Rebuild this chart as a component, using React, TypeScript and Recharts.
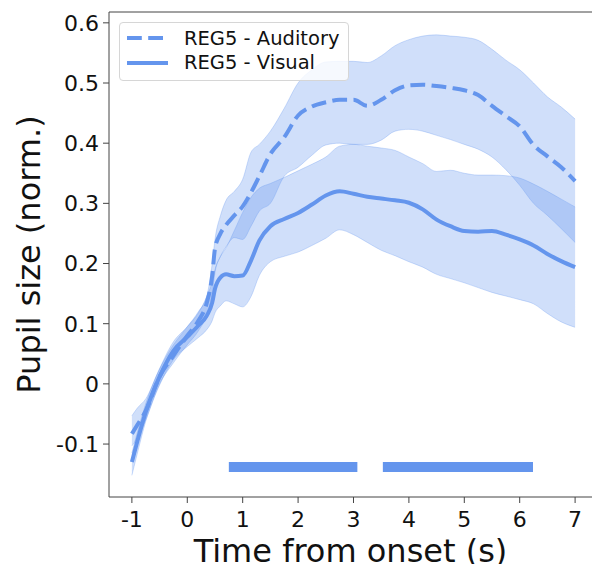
import { ComposedChart, Area, Line, XAxis, YAxis, ReferenceLine, Legend } from 'recharts';

const time = [
  -1, -0.9, -0.75, -0.5, -0.25, 0, 0.2, 0.35, 0.45, 0.5, 0.6, 0.7, 0.85, 1.0, 1.15, 1.3, 1.5, 1.75,
  2.0, 2.25, 2.5, 2.75, 3.0, 3.25, 3.5, 3.75, 4.0, 4.25, 4.5, 4.75, 5.0, 5.25, 5.5, 5.75, 6.0, 6.25,
  6.5, 6.75, 7.0,
];

const auditoryMean = [
  -0.083, -0.068, -0.045, 0.012, 0.047, 0.08, 0.105, 0.134, 0.18, 0.225, 0.25, 0.264, 0.28, 0.295,
  0.318, 0.345, 0.382, 0.41, 0.446, 0.461, 0.468, 0.472, 0.472, 0.462, 0.472, 0.488, 0.496, 0.497,
  0.495, 0.492, 0.488, 0.48, 0.462, 0.445, 0.428, 0.397, 0.378, 0.36, 0.337,
];
const auditoryHigh = [
  -0.053, -0.04, -0.025, 0.025, 0.065, 0.095, 0.12, 0.145, 0.2, 0.24, 0.28, 0.305, 0.32, 0.34, 0.385,
  0.398, 0.42, 0.458, 0.5, 0.522, 0.535, 0.536, 0.536, 0.534, 0.545, 0.562, 0.572, 0.578, 0.58, 0.578,
  0.576, 0.571, 0.556, 0.538, 0.522, 0.5, 0.477, 0.46, 0.44,
];
const auditoryLow = [
  -0.103, -0.09, -0.06, 0.0, 0.035, 0.065, 0.088, 0.115, 0.15, 0.185, 0.212, 0.228, 0.243, 0.24,
  0.262, 0.287, 0.3, 0.345, 0.36, 0.38, 0.397, 0.4, 0.398, 0.398, 0.405, 0.42, 0.423, 0.42, 0.413,
  0.406, 0.398, 0.39, 0.377, 0.356, 0.33, 0.3, 0.28, 0.258, 0.235,
];

const visualMean = [
  -0.13, -0.095, -0.047, 0.012, 0.055, 0.078, 0.097, 0.113, 0.135, 0.158, 0.177, 0.182, 0.179, 0.18,
  0.205, 0.238, 0.262, 0.274, 0.284, 0.298, 0.313, 0.32, 0.316, 0.311, 0.308, 0.305, 0.301, 0.29,
  0.273, 0.262, 0.254, 0.253, 0.254, 0.248, 0.24, 0.23, 0.216, 0.204, 0.194,
];
const visualHigh = [
  -0.115, -0.08, -0.033, 0.025, 0.07, 0.095, 0.118, 0.145, 0.17, 0.19, 0.212, 0.226, 0.255, 0.285,
  0.31, 0.325, 0.333, 0.343, 0.354, 0.365, 0.377, 0.395, 0.398, 0.395, 0.392, 0.388, 0.377, 0.366,
  0.353, 0.355, 0.35, 0.347, 0.347, 0.346, 0.342, 0.332, 0.32, 0.307, 0.294,
];
const visualLow = [
  -0.152, -0.115, -0.062, -0.002, 0.04, 0.062, 0.077, 0.09, 0.105, 0.118, 0.13, 0.138, 0.133, 0.128,
  0.145, 0.18, 0.203, 0.212, 0.219, 0.23, 0.242, 0.256, 0.248, 0.235, 0.222, 0.213, 0.203, 0.194,
  0.182, 0.175, 0.168, 0.16, 0.152, 0.146, 0.14, 0.133, 0.117, 0.103, 0.094,
];

// significance clusters (start, end in s) and the level they are drawn at
const sigCluster1 = [0.75, 3.07];
const sigCluster2 = [3.53, 6.24];
const sigLevel = -0.138;

const xTicks = [-1, 0, 1, 2, 3, 4, 5, 6, 7];
const yTicks = [-0.1, 0, 0.1, 0.2, 0.3, 0.4, 0.5, 0.6];
const xDomain = [-1.413, 7.305];
const yDomain = [-0.188, 0.618];

const BLUE = '#6495ED';
const AXIS = '#444';

const rows = time.map((t, i) => ({
  t,
  aud: auditoryMean[i],
  vis: visualMean[i],
  audBand: [auditoryLow[i], auditoryHigh[i]],
  visBand: [visualLow[i], visualHigh[i]],
}));

const clusterRows = (c: number[]) => c.map((t) => ({ t, sig: sigLevel }));

function renderLegend(props: any) {
  const items = (props.payload || []).filter((p: any) => p.type !== 'none');
  return (
    <div
      style={{
        background: 'rgba(255,255,255,0.8)',
        border: '1px solid #d6d6d6',
        borderRadius: 4,
        padding: '3px 9px 5px 7px',
        fontSize: 19.5,
        color: '#111',
        fontFamily: 'DejaVu Sans',
      }}
    >
      {items.map((entry: any) => (
        <div key={entry.value} style={{ display: 'flex', alignItems: 'center', height: 24.5 }}>
          <svg width={41} height={10} style={{ marginRight: 16 }}>
            <line
              x1={0}
              y1={5}
              x2={41}
              y2={5}
              stroke={entry.color}
              strokeWidth={4}
              strokeDasharray={entry.payload?.strokeDasharray}
            />
          </svg>
          <span>{entry.value}</span>
        </div>
      ))}
    </div>
  );
}

function YLabel(props: any) {
  const vb = props.viewBox || { x: 0, y: 12, width: 109, height: 485 };
  const cx = 40;
  const cy = vb.y + vb.height / 2;
  return (
    <text x={cx} y={cy} transform={`rotate(-90 ${cx} ${cy})`} textAnchor="middle" fontSize={32} fill="#111">
      Pupil size (norm.)
    </text>
  );
}

export default function App() {
  return (
    <div style={{ position: 'absolute', left: 0, top: 0, width: 592, height: 564 }}>
      <ComposedChart
        width={592}
        height={564}
        data={rows}
        margin={{ top: 12, right: 0, bottom: 0, left: 0 }}
        style={{ fontFamily: 'DejaVu Sans' }}
      >
        <XAxis
          dataKey="t"
          type="number"
          domain={xDomain}
          ticks={xTicks}
          allowDataOverflow
          height={67}
          tickSize={6}
          tickMargin={8}
          stroke={AXIS}
          tick={{ fontSize: 22, fill: '#111' }}
          label={{ value: 'Time from onset (s)', position: 'insideBottom', offset: 2, fontSize: 32, fill: '#111' }}
        />
        <YAxis
          type="number"
          domain={yDomain}
          ticks={yTicks}
          allowDataOverflow
          width={109}
          tickSize={6}
          tickMargin={4}
          stroke={AXIS}
          tick={{ fontSize: 22, fill: '#111' }}
          tickFormatter={(v: number) => (v === 0 ? '0' : v.toFixed(1))}
          label={(p: any) => <YLabel {...p} />}
        />
        <ReferenceLine y={yDomain[1]} stroke={AXIS} />

        <Area
          type="monotone"
          dataKey="audBand"
          fill={BLUE}
          fillOpacity={0.3}
          stroke={BLUE}
          strokeOpacity={0.3}
          legendType="none"
          isAnimationActive={false}
        />
        <Area
          type="monotone"
          dataKey="visBand"
          fill={BLUE}
          fillOpacity={0.3}
          stroke={BLUE}
          strokeOpacity={0.3}
          legendType="none"
          isAnimationActive={false}
        />
        <Line
          type="monotone"
          dataKey="aud"
          name="REG5 - Auditory"
          stroke={BLUE}
          strokeWidth={4}
          strokeDasharray="14.8 6.4"
          dot={false}
          isAnimationActive={false}
        />
        <Line
          type="monotone"
          dataKey="vis"
          name="REG5 - Visual"
          stroke={BLUE}
          strokeWidth={4}
          dot={false}
          isAnimationActive={false}
        />
        <Line
          data={clusterRows(sigCluster1)}
          dataKey="sig"
          stroke={BLUE}
          strokeWidth={10}
          dot={false}
          legendType="none"
          isAnimationActive={false}
        />
        <Line
          data={clusterRows(sigCluster2)}
          dataKey="sig"
          stroke={BLUE}
          strokeWidth={10}
          dot={false}
          legendType="none"
          isAnimationActive={false}
        />

        <Legend
          layout="vertical"
          align="center"
          verticalAlign="middle"
          content={renderLegend}
          wrapperStyle={{ left: 119, top: 22, width: 'auto' }}
        />
      </ComposedChart>
    </div>
  );
}
